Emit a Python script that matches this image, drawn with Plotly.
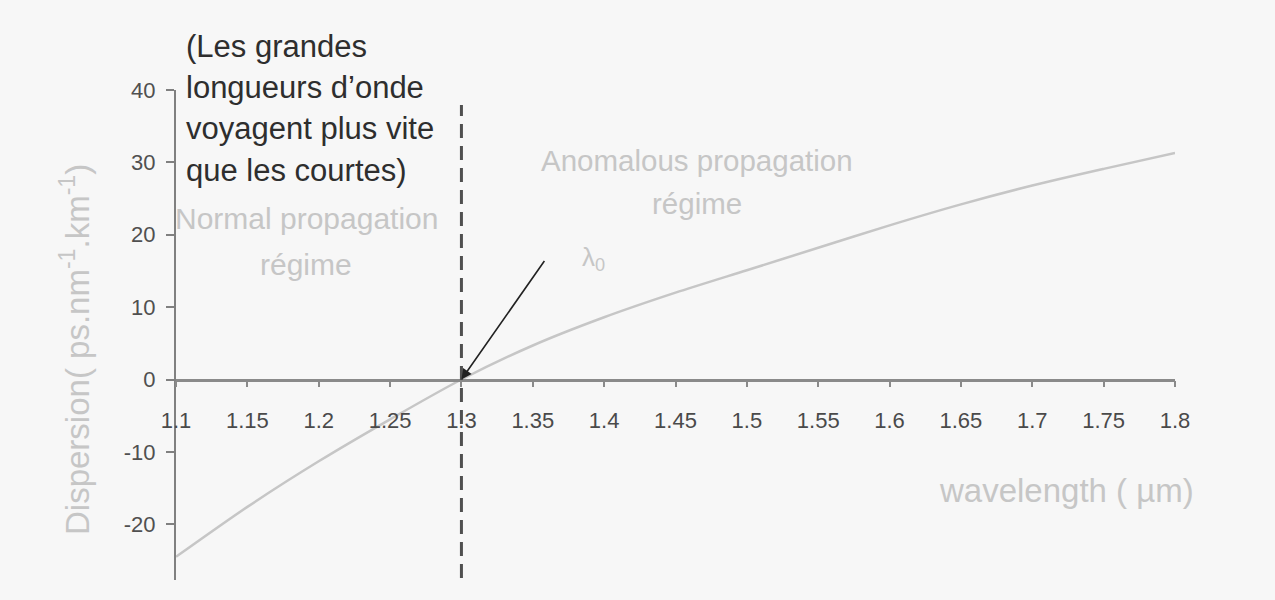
import plotly.graph_objects as go

# Chromatic dispersion of standard single-mode fibre versus wavelength
wavelength_um = [1.10, 1.15, 1.20, 1.25, 1.30, 1.35, 1.40, 1.45, 1.50,
                 1.55, 1.60, 1.65, 1.70, 1.75, 1.80]
dispersion = [-24.5, -17.6, -11.3, -5.5, 0.0, 4.7, 8.6, 12.0, 15.1,
              18.2, 21.3, 24.2, 26.8, 29.1, 31.3]
x_ticks = [1.10, 1.15, 1.20, 1.25, 1.30, 1.35, 1.40, 1.45, 1.50,
           1.55, 1.60, 1.65, 1.70, 1.75, 1.80]
x_tick_text = ["1.1", "1.15", "1.2", "1.25", "1.3", "1.35", "1.4", "1.45",
               "1.5", "1.55", "1.6", "1.65", "1.7", "1.75", "1.8"]
y_ticks = [-20, -10, 0, 10, 20, 30, 40]
y_tick_text = ["-20", "-10", "0", "10", "20", "30", "40"]
zero_wavelength = 1.30

W, H = 1275, 600
L, R, T, B = 176, 100, 90, 20
Y_MIN, Y_MAX = -27.7, 40.0
FONT = "Liberation Sans, Arial, sans-serif"
LIGHT = "#c6c6c6"
BG = "#f7f7f7"


def px(x, y):
    """Page pixel -> paper fraction of the plotting area."""
    return (x - L) / (W - L - R), (H - B - y) / (H - T - B)


fig = go.Figure()
fig.add_trace(go.Scatter(
    x=wavelength_um, y=dispersion, mode="lines",
    line=dict(color=LIGHT, width=2.5, shape="spline", smoothing=0.8),
    hoverinfo="skip", showlegend=False,
))

# dashed marker of the zero-dispersion wavelength
_, yd0 = px(0, 578)
_, yd1 = px(0, 105)
fig.add_shape(type="line", xref="x", yref="paper",
              x0=zero_wavelength, x1=zero_wavelength, y0=yd0, y1=yd1,
              line=dict(color="#505050", width=3, dash="14px,8px"))

ann = []


def text(x, y, s, size, color, **kw):
    xp, yp = px(x, y)
    d = dict(x=xp, y=yp, xref="paper", yref="paper", text=s, showarrow=False,
             xanchor="center", yanchor="middle",
             font=dict(family=FONT, size=size, color=color))
    d.update(kw)
    ann.append(d)


# explanatory note, top left
note = ["(Les grandes", "longueurs d’onde", "voyagent plus vite", "que les courtes)"]
for i, line in enumerate(note):
    text(184, 46 + i * 41.5, line, 31, "#2e2e2e", xanchor="left")

text(306, 218, "Normal propagation", 30, LIGHT)
text(306, 264, "régime", 30, LIGHT)
text(697, 160, "Anomalous propagation", 29.5, LIGHT)
text(697, 203, "régime", 29.5, LIGHT)
text(593, 258, "λ<sub>0</sub>", 26, LIGHT)
text(1066, 490, "wavelength ( µm)", 33, LIGHT)
text(75, 350, "Dispersion( ps.nm<sup>-1</sup>.km<sup>-1</sup>)", 33, LIGHT,
     textangle=-90)

# arrow pointing at the zero crossing
ann.append(dict(x=zero_wavelength, y=0, xref="x", yref="y", text="",
                showarrow=True, ax=84, ay=-120, arrowhead=2, arrowsize=1.3,
                arrowwidth=1.6, arrowcolor="#222222", standoff=0))

fig.update_layout(
    width=W, height=H,
    margin=dict(l=L, r=R, t=T, b=B),
    paper_bgcolor=BG, plot_bgcolor=BG,
    annotations=ann,
    xaxis=dict(
        range=[1.1, 1.8], tickvals=x_ticks, ticktext=x_tick_text,
        anchor="free", position=(0 - Y_MIN) / (Y_MAX - Y_MIN),
        showline=True, linecolor="#8a8a8a", linewidth=2.5,
        ticks="outside", ticklen=6, tickwidth=1.5, tickcolor="#8a8a8a",
        ticklabelstandoff=14,
        showgrid=False, zeroline=False,
        tickfont=dict(family=FONT, size=22, color="#4a4a4a"),
    ),
    yaxis=dict(
        range=[Y_MIN, Y_MAX], tickvals=y_ticks, ticktext=y_tick_text,
        showline=True, linecolor="#808080", linewidth=2,
        ticks="outside", ticklen=8, tickwidth=1.5, tickcolor="#808080",
        ticklabelstandoff=6,
        showgrid=False, zeroline=False,
        tickfont=dict(family=FONT, size=22, color="#505050"),
    ),
)

fig.write_html("out.html")
